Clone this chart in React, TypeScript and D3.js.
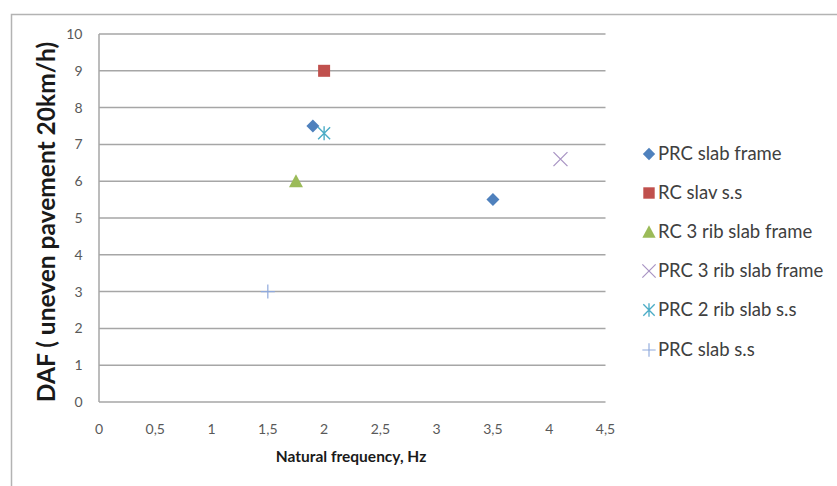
import React from "react";
import * as d3 from "d3";

// Natural frequency (Hz) vs dynamic amplification factor, per structure type
const seriesNames = [
  "PRC slab frame",
  "RC slav s.s",
  "RC 3 rib slab frame",
  "PRC 3 rib slab frame",
  "PRC 2 rib slab s.s",
  "PRC slab s.s",
];
const seriesColors = ["#4F81BD", "#C0504D", "#9BBB59", "#A995C4", "#4BACC6", "#8FA9DC"];
const seriesShapes = ["diamond", "square", "triangle", "x", "star", "plus"];
const prcSlabFrame = [
  [1.9, 7.5],
  [3.5, 5.5],
];
const rcSlavSs = [[2, 9]];
const rc3RibSlabFrame = [[1.75, 6]];
const prc3RibSlabFrame = [[4.1, 6.6]];
const prc2RibSlabSs = [[2, 7.3]];
const prcSlabSs = [[1.5, 3]];
const seriesData = [prcSlabFrame, rcSlavSs, rc3RibSlabFrame, prc3RibSlabFrame, prc2RibSlabSs, prcSlabSs];

const xTicks = [0, 0.5, 1, 1.5, 2, 2.5, 3, 3.5, 4, 4.5];
const yTicks = [0, 1, 2, 3, 4, 5, 6, 7, 8, 9, 10];

const W = 837;
const H = 486;
const FONT = "Lato, 'Open Sans', sans-serif";

function Marker({ shape, color, x, y, s = 1 }: { shape: string; color: string; x: number; y: number; s?: number }) {
  const t = `translate(${x},${y}) scale(${s})`;
  switch (shape) {
    case "diamond":
      return <path transform={t} d="M0,-6.5L6.5,0L0,6.5L-6.5,0Z" fill={color} />;
    case "square":
      return <rect transform={t} x={-6} y={-6} width={12} height={12} fill={color} />;
    case "triangle":
      return <path transform={t} d="M0,-7L7,6L-7,6Z" fill={color} />;
    case "x":
      return <path transform={t} d="M-7,-7L7,7M-7,7L7,-7" stroke={color} strokeWidth={1.3} fill="none" />;
    case "star":
      return (
        <path
          transform={t}
          d="M-6,-6L6,6M-6,6L6,-6M0,-7L0,7"
          stroke={color}
          strokeWidth={1.4}
          fill="none"
        />
      );
    case "plus":
      return <path transform={t} d="M-7,0L7,0M0,-7L0,7" stroke={color} strokeWidth={1.2} fill="none" />;
    default:
      return null;
  }
}

export default function App() {
  const x = d3.scaleLinear().domain([0, 4.5]).range([99, 605.5]);
  const y = d3.scaleLinear().domain([0, 10]).range([402, 34]);
  const fmt = (v: number) => String(v).replace(".", ",");

  const legendY = [154, 193, 232, 271, 310, 350];

  return (
    <svg
      width={W}
      height={H}
      style={{ position: "absolute", left: 0, top: 0, background: "#fff" }}
      fontFamily={FONT}
    >
      {/* chart frame */}
      <path d={`M11.5,${H}V14.5H${W}`} fill="none" stroke="#b3b3b3" strokeWidth={1.5} />

      {/* horizontal gridlines */}
      {yTicks.map((v) => (
        <line key={v} x1={x(0)} x2={x(4.5)} y1={y(v)} y2={y(v)} stroke="#a6a6a6" strokeWidth={1.5} />
      ))}
      {/* value axis line */}
      <line x1={x(0)} x2={x(0)} y1={y(10)} y2={y(0)} stroke="#a6a6a6" strokeWidth={1.5} />

      {/* y tick labels */}
      {yTicks.map((v) => (
        <text key={v} x={82.5} y={y(v)} dy="0.35em" textAnchor="end" fontSize={14} fill="#595959">
          {v}
        </text>
      ))}
      {/* x tick labels */}
      {xTicks.map((v) => (
        <text key={v} x={x(v)} y={429} dy="0.35em" textAnchor="middle" fontSize={14} fill="#595959">
          {fmt(v)}
        </text>
      ))}

      {/* axis titles */}
      <text
        transform={`translate(55,${(y(0) + y(10)) / 2 + 4}) rotate(-90)`}
        textAnchor="middle"
        fontSize={24.5}
        fontWeight="bold"
        fill="#1a1a1a"
      >
        DAF ( uneven pavement 20km/h)
      </text>
      <text x={351} y={462} textAnchor="middle" fontSize={15.5} fontWeight="bold" fill="#1a1a1a">
        Natural frequency, Hz
      </text>

      {/* data points */}
      {seriesData.map((pts, i) =>
        pts.map((p, j) => (
          <Marker key={`${i}-${j}`} shape={seriesShapes[i]} color={seriesColors[i]} x={x(p[0])} y={y(p[1])} />
        ))
      )}

      {/* legend */}
      {seriesNames.map((name, i) => (
        <g key={name}>
          <Marker shape={seriesShapes[i]} color={seriesColors[i]} x={649} y={legendY[i]} s={0.95} />
          <text x={658} y={legendY[i]} dy="0.35em" fontSize={18.5} fill="#404040">
            {name}
          </text>
        </g>
      ))}
    </svg>
  );
}
